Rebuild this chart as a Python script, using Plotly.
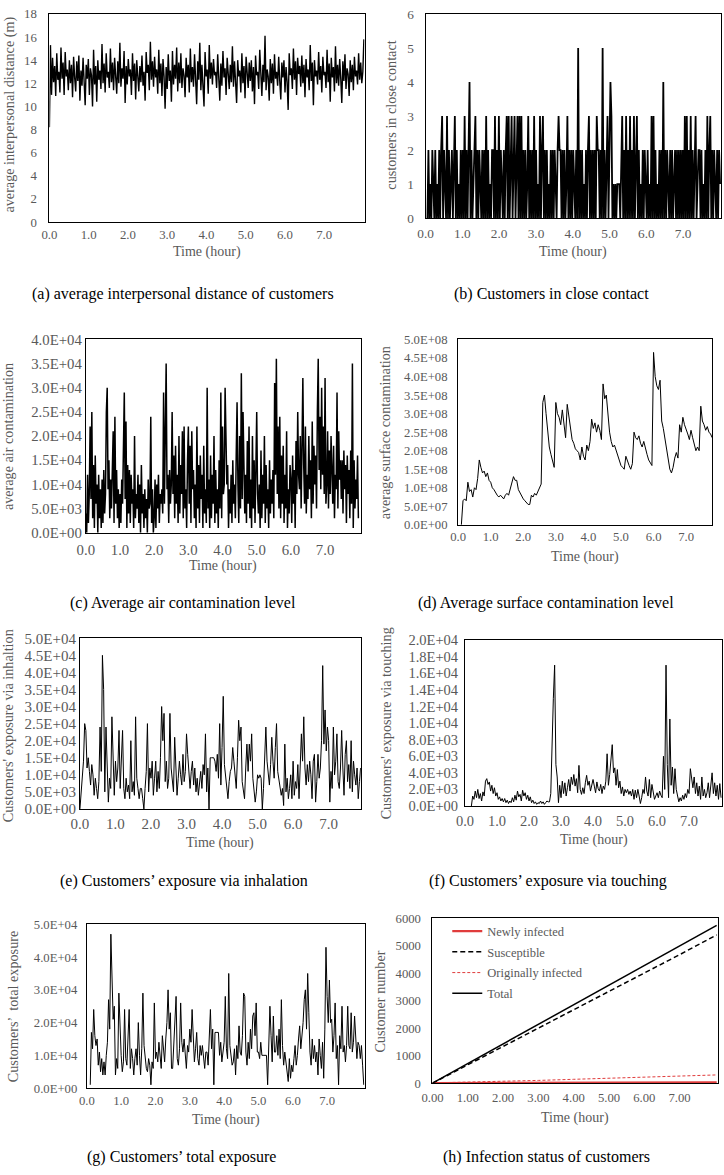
import plotly.graph_objects as go

W, H = 724, 1175
FONT = "Liberation Serif"
GRAY = "#595959"

# ---------------- data ----------------
# (a) average interpersonal distance (m), sampled every DIST_STEP hours
DIST_START, DIST_STEP = 0.0, 0.0268
dist_m = [
    8.2, 15.3, 11.0, 14.2, 12.1, 13.5, 10.9, 14.6, 12.3, 13.0, 11.2, 15.1, 12.4, 13.8, 11.0, 14.7, 12.6, 13.2, 11.4, 14.0,
    12.0, 13.6, 10.8, 14.3, 12.5, 11.3, 13.9, 12.2, 14.4, 10.5, 13.1, 11.8, 14.2, 12.0, 10.1, 13.6, 12.4, 14.1, 11.0, 13.3,
    12.7, 10.0, 14.9, 11.9, 13.5, 10.4, 14.0, 12.3, 13.1, 11.5, 15.4, 12.0, 13.7, 11.2, 14.6, 12.5, 13.0, 11.6, 15.0, 12.1,
    13.8, 11.4, 14.2, 12.6, 11.1, 13.9, 12.0, 15.5, 11.7, 13.3, 12.4, 14.8, 10.3, 13.5, 11.9, 14.1, 12.6, 13.2, 11.0, 14.6,
    12.2, 13.7, 10.6, 14.0, 12.8, 11.3, 13.5, 12.1, 14.4, 11.8, 13.0, 10.5, 14.7, 12.9, 13.6, 11.4, 15.6, 12.3, 13.9, 11.7,
    14.3, 12.5, 13.2, 11.1, 14.9, 12.0, 13.7, 10.9, 14.1, 12.6, 9.8, 13.4, 11.5, 14.5, 12.2, 13.1, 10.4, 14.8, 11.9, 13.6,
    12.4, 15.1, 11.3, 13.8, 12.0, 14.6, 11.6, 13.3, 12.7, 10.8, 14.2, 12.5, 13.6, 11.2, 15.0, 12.1, 13.4, 11.7, 14.5, 12.8,
    10.2, 13.9, 12.3, 15.5, 11.4, 13.6, 12.0, 10.0, 14.7, 12.6, 13.2, 11.1, 15.3, 12.4, 13.8, 11.9, 14.1, 12.7, 13.0, 11.6,
    14.5, 12.2, 10.5, 13.7, 11.8, 14.8, 12.5, 13.3, 11.0, 14.2, 12.9, 11.5, 13.6, 12.1, 15.2, 11.7, 13.9, 12.4, 10.3, 14.0,
    12.6, 13.1, 11.2, 14.6, 12.0, 13.5, 10.7, 14.3, 12.4, 11.6, 13.8, 12.2, 14.0, 11.3, 13.4, 10.2, 14.4, 12.7, 13.0, 11.5,
    14.9, 12.3, 10.9, 13.6, 12.1, 16.1, 11.4, 13.2, 12.6, 10.5, 14.1, 12.0, 13.7, 11.1, 14.5, 12.4, 13.0, 11.8, 14.3, 12.2,
    10.6, 13.8, 12.5, 14.0, 11.2, 13.4, 12.1, 9.7, 14.6, 12.7, 13.3, 11.5, 15.0, 12.3, 13.9, 11.0, 14.2, 12.8, 13.5, 11.7,
    14.4, 12.0, 13.6, 10.8, 14.1, 12.5, 13.2, 11.4, 15.3, 12.2, 13.8, 10.1, 14.0, 12.6, 13.1, 11.9, 14.7, 12.3, 13.5, 11.2,
    14.3, 12.7, 13.0, 11.6, 14.9, 12.1, 13.7, 10.4, 14.2, 12.5, 13.4, 11.3, 15.2, 12.0, 13.6, 11.8, 14.1, 12.4, 10.3, 13.9,
    12.2, 14.5, 11.5, 13.3, 12.8, 10.9, 14.0, 12.1, 13.6, 11.4, 14.3, 12.6, 13.1, 11.9, 14.6, 12.3, 13.8, 12.0, 13.0, 15.8,
]

# (b) customers in close contact (count)
CONTACT_START, CONTACT_STEP = 0.05, 0.0266
contacts = [
    0, 2, 0, 1, 0, 2, 1, 0, 2, 0, 1, 0, 2, 0, 2, 3, 0, 2, 1, 0,
    3, 0, 2, 0, 1, 2, 0, 2, 3, 0, 2, 0, 1, 0, 2, 0, 2, 0, 3, 0,
    2, 0, 2, 4, 0, 2, 0, 1, 2, 3, 0, 2, 0, 2, 1, 0, 2, 0, 2, 0,
    3, 0, 2, 0, 1, 0, 2, 2, 0, 3, 0, 2, 0, 3, 0, 2, 1, 0, 2, 0,
    2, 3, 0, 3, 0, 2, 3, 0, 2, 3, 0, 2, 3, 0, 3, 0, 3, 0, 2, 0,
    2, 0, 1, 3, 0, 2, 0, 2, 0, 3, 0, 2, 0, 1, 0, 3, 0, 2, 3, 0,
    2, 0, 2, 0, 1, 0, 2, 0, 2, 0, 2, 1, 0, 2, 3, 2, 2, 0, 2, 0,
    2, 0, 1, 3, 0, 2, 0, 2, 0, 2, 1, 0, 2, 0, 5, 0, 2, 0, 2, 0,
    1, 0, 2, 0, 2, 3, 0, 2, 0, 2, 0, 2, 0, 3, 2, 2, 0, 2, 0, 5,
    0, 2, 0, 2, 3, 0, 2, 4, 3, 0, 1, 0, 1, 0, 1, 1, 1, 0, 2, 3,
    0, 2, 0, 3, 0, 2, 0, 3, 0, 2, 0, 3, 0, 2, 3, 0, 2, 0, 1, 0,
    2, 0, 2, 1, 0, 2, 0, 1, 0, 3, 0, 3, 0, 2, 0, 1, 0, 2, 0, 2,
    0, 4, 0, 2, 0, 2, 1, 0, 2, 0, 2, 0, 1, 2, 0, 2, 0, 2, 0, 2,
    0, 2, 0, 3, 0, 3, 0, 2, 0, 3, 0, 2, 0, 2, 3, 0, 1, 2, 2, 0,
    2, 0, 1, 0, 2, 0, 3, 0, 2, 3, 0, 2, 0, 2, 1, 0, 2, 0, 2, 1,
]

# (c) average air contamination, in thousands
AIR_START, AIR_STEP = 0.0, 0.025
air_k = [
    4, 0, 12, 2, 8, 22, 7, 25, 3, 14, 1, 16, 6, 10, 0, 12, 3, 9, 1, 11,
    2, 13, 4, 8, 25, 30, 9, 15, 3, 11, 5, 12, 21, 2, 24, 6, 13, 3, 9, 1,
    8, 2, 11, 6, 18, 29, 7, 23, 1, 14, 4, 13, 2, 12, 6, 9, 1, 20, 3, 8,
    5, 12, 2, 10, 0, 14, 4, 8, 1, 9, 3, 7, 0, 11, 5, 6, 24, 2, 9, 0,
    3, 11, 1, 10, 5, 12, 2, 8, 6, 9, 4, 29, 6, 17, 35, 9, 12, 2, 13, 6,
    10, 25, 8, 16, 3, 18, 6, 12, 2, 20, 4, 14, 8, 21, 3, 22, 5, 9, 1, 15,
    22, 6, 18, 2, 21, 9, 13, 3, 10, 1, 22, 5, 14, 2, 16, 7, 12, 1, 18, 4,
    9, 2, 30, 5, 11, 1, 16, 3, 12, 6, 20, 2, 13, 4, 9, 1, 15, 5, 29, 3,
    22, 8, 10, 30, 18, 10, 14, 1, 9, 4, 12, 2, 15, 6, 10, 3, 16, 27, 10, 2,
    20, 5, 33, 7, 25, 16, 4, 12, 2, 19, 6, 22, 3, 11, 1, 20, 5, 15, 2, 13,
    25, 8, 4, 10, 1, 17, 3, 12, 6, 20, 2, 14, 5, 9, 1, 15, 4, 11, 6, 13,
    3, 31, 12, 36, 8, 22, 5, 24, 3, 16, 6, 18, 2, 12, 5, 21, 1, 9, 4, 14,
    11, 2, 16, 6, 13, 1, 19, 8, 25, 12, 9, 20, 5, 18, 32, 14, 6, 22, 4, 12,
    7, 20, 9, 15, 3, 23, 6, 18, 10, 16, 5, 25, 36, 13, 24, 9, 30, 12, 22, 8,
    32, 6, 10, 21, 5, 17, 8, 20, 14, 6, 18, 3, 12, 9, 29, 5, 21, 11, 15, 7,
    15, 4, 17, 9, 14, 2, 16, 8, 13, 3, 17, 6, 35, 1, 15, 5, 11, 7, 16, 3,
]

# (d) average surface contamination, in units of 1e7
SURF_START, SURF_STEP = 0.10, 0.05
surf_e7 = [
    0, 6.5, 7, 6.5, 11.5, 9, 9.5, 7.5, 10, 9.5, 12.5, 17.5, 15.5, 14, 14.5, 13, 14, 12,
    11.5, 10, 9.5, 8.5, 8, 7.5, 8, 7.5, 7, 8, 8.5, 8, 9.5, 11, 13, 12, 12, 9.5, 8.5, 7.5,
    7, 6.5, 6, 5.5, 5.5, 8, 7.5, 8.5, 8, 9, 10, 11, 33, 35, 30, 24.5, 21, 19, 17.5, 15.5,
    33, 30, 29, 27, 31, 27, 23.5, 32.5, 29, 26, 23, 22, 20.5, 20, 19.5, 17.5, 21, 18.5, 17.5, 21.5,
    20, 22.5, 28.5, 26, 27.5, 25, 27, 25.5, 23, 38, 34, 35, 30, 25, 22.5, 21, 21.5, 20, 19, 17.5,
    16, 15.5, 15, 18.5, 17.5, 16, 15, 16.5, 25, 23.5, 23, 24, 22, 21, 22.5, 20.5, 19, 17.5, 16.5, 16,
    46.5, 40, 37.5, 36.5, 39, 28, 26, 23, 20, 17, 15, 14, 15.5, 18, 19.5, 18, 27, 25, 29, 27,
    26, 24.5, 23, 25.5, 23.5, 22, 20, 21, 20, 32, 28, 27, 25.5, 26.5, 25, 24.5, 23.5,
]

# (e) exposure via inhalation, in thousands
INH_START, INH_STEP = 0.0, 1 / 30
inh_k = [
    0, 4, 9, 14, 25, 23, 12, 15, 11, 7, 13, 10, 4, 9, 6,
    3, 8, 24, 11, 45, 35, 5, 24, 12, 2, 9, 6, 27, 17, 4,
    14, 8, 12, 23, 6, 17, 23, 6, 3, 9, 5, 7, 3, 20, 5,
    8, 4, 27, 9, 6, 3, 6, 6, 3, 0, 6, 11, 25, 5, 12,
    9, 14, 4, 9, 14, 5, 11, 6, 15, 30, 20, 28, 8, 14, 6,
    9, 28, 12, 7, 5, 21, 13, 4, 9, 14, 10, 7, 16, 8, 11,
    22, 16, 9, 6, 11, 14, 7, 12, 5, 9, 4, 8, 11, 6, 13,
    10, 22, 5, 12, 0, 15, 15, 15, 15, 14, 11, 16, 9, 25, 7,
    18, 33, 13, 9, 5, 3, 8, 11, 12, 18, 14, 10, 6, 15, 26,
    20, 24, 8, 5, 3, 12, 19, 11, 19, 14, 22, 9, 6, 2, 5,
    10, 9, 10, 9, 0, 6, 15, 24, 14, 10, 7, 13, 21, 14, 9,
    18, 25, 11, 9, 6, 4, 6, 1, 19, 5, 9, 3, 6, 10, 3,
    14, 4, 8, 6, 13, 3, 15, 22, 14, 27, 12, 7, 13, 8, 14,
    10, 3, 14, 16, 2, 8, 16, 9, 12, 20, 42, 19, 29, 17, 24,
    20, 2, 11, 6, 24, 10, 14, 22, 8, 6, 12, 23, 12, 4, 16,
    20, 8, 13, 6, 20, 5, 14, 10, 7, 12, 3, 8, 12, 6, 1,
]

# (f) exposure via touching, in thousands
TOUCH_START, TOUCH_STEP = 0.20, 0.04
touch_k = [
    0, 1.2, 0.8, 1.8, 1.0, 2.0, 0.9, 1.5, 0.6, 1.7, 1.2, 3.0, 3.3, 2.6, 2.9, 1.8, 2.5, 1.5, 2.2, 1.2, 1.6, 0.8, 1.1, 0.6, 0.9,
    0.5, 0.9, 0.4, 0.7, 0.3, 0.6, 0.4, 1.0, 0.5, 1.3, 0.7, 1.8, 1.1, 1.4, 0.6, 1.9, 1.2, 1.6, 0.8, 1.3, 0.6, 1.1, 0.4, 0.7, 0.3,
    0.5, 0.2, 0.4, 0.3, 0.6, 0.3, 0.5, 0.2, 0.4, 0.6, 0.5, 0.5, 1.5, 9.5, 13, 17, 5, 3.5, 0.4, 2.5, 1.0, 3.0, 1.5, 2.8, 1.2,
    2.2, 3.2, 1.8, 3.5, 2.6, 3.8, 2.4, 3.3, 1.6, 4.9, 2.0, 1.4, 2.2, 1.5, 2.8, 3.7, 2.5, 3.0, 1.8, 2.6, 3.2, 2.4, 1.6, 2.9, 2.1,
    1.8, 2.6, 1.5, 2.4, 2.0, 3.0, 6.3, 2.5, 3.8, 5.5, 7.4, 4.0, 4.6, 2.5, 4.4, 2.2, 3.0, 1.5, 2.3, 1.2, 2.0, 1.6, 2.0, 1.4, 1.8,
    1.2, 2.0, 0.8, 1.9, 1.0, 2.0, 1.2, 0.3, 1.0, 2.0, 1.5, 3.5, 1.8, 1.2, 3.2, 1.0, 2.6, 1.4, 0.8, 1.2, 1.6, 1.0, 1.8, 1.3, 1.0,
    6.0, 2.0, 17, 5.0, 1.0, 10.5, 2.5, 4.7, 1.5, 4.5, 2.0, 1.2, 0.5, 1.0, 0.6, 1.3, 0.8, 1.5, 1.0, 2.0, 1.5, 4.5, 3.0, 2.2, 3.5,
    1.5, 2.8, 1.2, 2.4, 0.8, 3.5, 1.2, 2.0, 1.0, 1.6, 2.8, 1.0, 2.2, 4.0, 1.5, 2.8, 1.2, 2.5, 0.8, 2.7, 1.0,
]

# (g) total exposure, in thousands (None = not yet recorded)
TOT_START, TOT_STEP = 0.0, 1 / 30
tot_k = [
    None, None, None, 1, 17, 12, 24, 16, 13, 15, 7, 11, 5, 9, 4,
    8, 4, 10, 14, 27, 18, 47, 36, 21, 25, 4, 9, 6, 29, 18,
    10, 5, 8, 24, 9, 7, 18, 24, 6, 12, 9, 4, 9, 12, 7,
    20, 10, 4, 12, 29, 13, 8, 6, 5, 9, 7, 1, 8, 6, 26,
    9, 11, 8, 14, 10, 6, 16, 11, 8, 15, 20, 30, 18, 23, 6,
    6, 13, 18, 28, 9, 7, 12, 26, 14, 11, 15, 9, 6, 13, 11,
    18, 14, 24, 13, 8, 12, 17, 9, 7, 13, 10, 13, 9, 6, 11,
    11, 7, 14, 24, 12, 18, 1, 17, 17, 17, 17, 10, 14, 8, 12,
    14, 28, 12, 9, 35, 13, 10, 7, 8, 12, 4, 13, 9, 19, 11,
    10, 16, 29, 28, 11, 7, 14, 9, 18, 12, 22, 23, 16, 26, 11,
    11, 9, 14, 10, 10, 10, 10, 10, 1, 18, 25, 16, 8, 22, 11,
    11, 16, 10, 18, 9, 27, 13, 7, 11, 8, 5, 2, 9, 3, 7,
    5, 9, 13, 7, 10, 15, 19, 12, 16, 20, 27, 30, 18, 35, 23,
    11, 7, 15, 9, 13, 8, 11, 4, 15, 10, 6, 14, 3, 18, 43,
    28, 20, 33, 20, 21, 11, 16, 26, 9, 13, 1, 16, 12, 25, 11,
    13, 8, 13, 25, 13, 12, 23, 11, 14, 22, 13, 9, 14, 13, 9,
    13, 7, 1,
]

# (h) infection status of customers
status_hours = [0, 1, 2, 3, 4, 5, 6, 7, 8.05]
newly_infected = [0, 2, 5, 8, 12, 16, 20, 25, 30]
susceptible = [0, 665, 1335, 2000, 2670, 3340, 4010, 4680, 5400]
originally_infected = [10, 35, 65, 100, 140, 180, 220, 260, 300]
total_customers = [0, 712, 1425, 2140, 2855, 3570, 4285, 5000, 5750]

x_ticks = [0, 1, 2, 3, 4, 5, 6, 7]
captions = [
    "(a) average interpersonal distance of customers",
    "(b) Customers in close contact",
    "(c) Average air contamination level",
    "(d) Average surface contamination level",
    "(e) Customers\u2019 exposure via inhalation",
    "(f) Customers\u2019 exposure via touching",
    "(g) Customers\u2019 total exposure",
    "(h) Infection status of customers",
]
y_titles = [
    "average interpersonal distance (m)",
    "customers in close contact",
    "average air contamination",
    "average surface contamination",
    "Customers' exposure via inhaltion",
    "Customers' exposure via touching",
    "Customers\u2019  total exposure",
    "Customer number",
]


def times(start, step, n):
    return [start + step * i for i in range(n)]


def scaled(vals, factor):
    return [None if v is None else v * factor for v in vals]


# ---------------- layout specs (pixels) ----------------
panels = [
    dict(box=(39, 359, 6, 217), xr=[0, 8.03], yr=[0, 18], yt=list(range(0, 19, 2)), sci=False, fs=12.8,
         ystand=9, xstand=1, ytitle_xy=(7, 108), time_y=247, cap_xy=(175, 290), xfmt="{:.1f}", lw=1.4),
    dict(box=(421, 721, 6, 213), xr=[0, 8.03], yr=[0, 6], yt=list(range(0, 7)), sci=False, fs=13.3,
         ystand=8, xstand=3, ytitle_xy=(394, 109), time_y=247, cap_xy=(549, 290), xfmt="{:.1f}", lw=1.8),
    dict(box=(76, 355, 336, 532), xr=[0, 8.04], yr=[0, 40000], yt=[i * 5000 for i in range(9)], sci=True, fs=14.8,
         ystand=0, xstand=3, ytitle_xy=(6, 435), time_y=566, cap_xy=(175, 603), xfmt="{:.1f}", lw=1.5),
    dict(box=(454, 712, 336, 524), xr=[0, 7.8], yr=[0, 5e8], yt=[i * 5e7 for i in range(11)], sci=True, fs=12.7,
         ystand=7, xstand=0, ytitle_xy=(389, 431), time_y=557, cap_xy=(543, 603), xfmt="{:.1f}", lw=1),
    dict(box=(70, 355, 639, 812), xr=[0, 7.9], yr=[0, 50000], yt=[i * 5000 for i in range(11)], sci=True, fs=15,
         ystand=0, xstand=1, ytitle_xy=(6, 728), time_y=847, cap_xy=(176, 885), xfmt="{:.1f}", lw=1),
    dict(box=(461, 722, 641, 809), xr=[0, 8.03], yr=[0, 20000], yt=[i * 2000 for i in range(11)], sci=True, fs=14.5,
         ystand=3, xstand=2, ytitle_xy=(390, 725), time_y=843, cap_xy=(545, 885), xfmt="{:.1f}", lw=1),
    dict(box=(77, 359, 929, 1095), xr=[0, 8.09], yr=[0, 50000], yt=[i * 10000 for i in range(6)], sci=True, fs=12.7,
         ystand=6, xstand=1, ytitle_xy=(11, 1012), time_y=1127, cap_xy=(173, 1165), xfmt="{:.1f}", lw=1),
    dict(box=(428, 718, 923, 1090), xr=[0, 8.09], yr=[0, 6000], yt=[i * 1000 for i in range(7)], sci=False, fs=12.7,
         ystand=8, xstand=3, ytitle_xy=(384, 1007), time_y=1125, cap_xy=(544, 1165), xfmt="{:.2f}", lw=1),
]
YTITLE_SHIFT = -9  # compensates the rendering offset of rotated annotations

fig = go.Figure()

series = [
    (times(DIST_START, DIST_STEP, len(dist_m)), dist_m),
    (times(CONTACT_START, CONTACT_STEP, len(contacts)), contacts),
    (times(AIR_START, AIR_STEP, len(air_k)), scaled(air_k, 1000)),
    (times(SURF_START, SURF_STEP, len(surf_e7)), scaled(surf_e7, 1e7)),
    (times(INH_START, INH_STEP, len(inh_k)), scaled(inh_k, 1000)),
    (times(TOUCH_START, TOUCH_STEP, len(touch_k)), scaled(touch_k, 1000)),
    (times(TOT_START, TOT_STEP, len(tot_k)), scaled(tot_k, 1000)),
]

for i, (tx, ty) in enumerate(series):
    n = i + 1
    fig.add_trace(go.Scatter(
        x=tx, y=ty, mode="lines", line=dict(color="black", width=panels[i]["lw"]),
        xaxis="x" if n == 1 else f"x{n}", yaxis="y" if n == 1 else f"y{n}",
        showlegend=False, connectgaps=False, hoverinfo="skip"))

status = [
    ("Newly infected", newly_infected, dict(color="#e03c3c", width=2.2)),
    ("Susceptible", susceptible, dict(color="black", width=1.5, dash="5px,3px")),
    ("Originally infected", originally_infected, dict(color="#e03c3c", width=1, dash="3px,2px")),
    ("Total", total_customers, dict(color="black", width=1.5)),
]
for k, (name, vals, ln) in enumerate(status):
    fig.add_trace(go.Scatter(x=status_hours, y=vals, mode="lines", name=name, line=ln,
                             legendgroup=f"g{k}", xaxis="x8", yaxis="y8", hoverinfo="skip"))

annotations = []
layout = {}
for i, p in enumerate(panels):
    n = i + 1
    x0, x1, y0, y1 = p["box"]
    xk = "xaxis" if n == 1 else f"xaxis{n}"
    yk = "yaxis" if n == 1 else f"yaxis{n}"
    tickfont = dict(family=FONT, size=p["fs"], color=GRAY)
    layout[xk] = dict(
        domain=[x0 / W, x1 / W], range=p["xr"], anchor="y" if n == 1 else f"y{n}",
        tickvals=x_ticks, ticktext=[p["xfmt"].format(v) for v in x_ticks],
        showline=True, linecolor="black", linewidth=1, mirror=True, ticks="",
        showgrid=False, zeroline=False, tickfont=tickfont, ticklabelstandoff=p["xstand"])
    if p["sci"]:
        ytext = [f"{v:.1E}" for v in p["yt"]]
    else:
        ytext = [str(int(v)) for v in p["yt"]]
    layout[yk] = dict(
        domain=[1 - y1 / H, 1 - y0 / H], range=p["yr"], anchor="x" if n == 1 else f"x{n}",
        tickvals=p["yt"], ticktext=ytext,
        showline=True, linecolor="black", linewidth=1, mirror=True, ticks="",
        showgrid=False, zeroline=False, tickfont=tickfont, ticklabelstandoff=p["ystand"])
    # x-axis title
    annotations.append(dict(x=(x0 + x1) / 2 / W, y=1 - p["time_y"] / H, xref="paper", yref="paper",
                            text="Time (hour)", showarrow=False, xanchor="center", yanchor="middle",
                            font=dict(family=FONT, size=14, color=GRAY)))
    # y-axis title
    tx, ty = p["ytitle_xy"]
    annotations.append(dict(x=(tx + YTITLE_SHIFT) / W, y=1 - ty / H, xref="paper", yref="paper", text=y_titles[i],
                            showarrow=False, textangle=-90, xanchor="center", yanchor="middle",
                            font=dict(family=FONT, size=14.2, color=GRAY)))
    # caption
    cx, cy = p["cap_xy"]
    annotations.append(dict(x=cx / W, y=1 - cy / H, xref="paper", yref="paper", text=captions[i],
                            showarrow=False, xanchor="center", yanchor="middle",
                            font=dict(family=FONT, size=16, color="black")))

fig.update_layout(
    width=W, height=H, margin=dict(l=0, r=0, t=0, b=0),
    paper_bgcolor="white", plot_bgcolor="white",
    font=dict(family=FONT),
    annotations=annotations,
    showlegend=True,
    legend=dict(x=443 / W, y=1 - 921 / H, xanchor="left", yanchor="top", traceorder="grouped",
                bgcolor="rgba(0,0,0,0)", font=dict(family=FONT, size=12.5, color=GRAY),
                tracegroupgap=1.5),
    **layout,
)

fig.write_html(
    "out.html",
    config={"displayModeBar": False},
    post_script="document.body.style.margin='0';document.body.style.overflow='hidden';",
)
